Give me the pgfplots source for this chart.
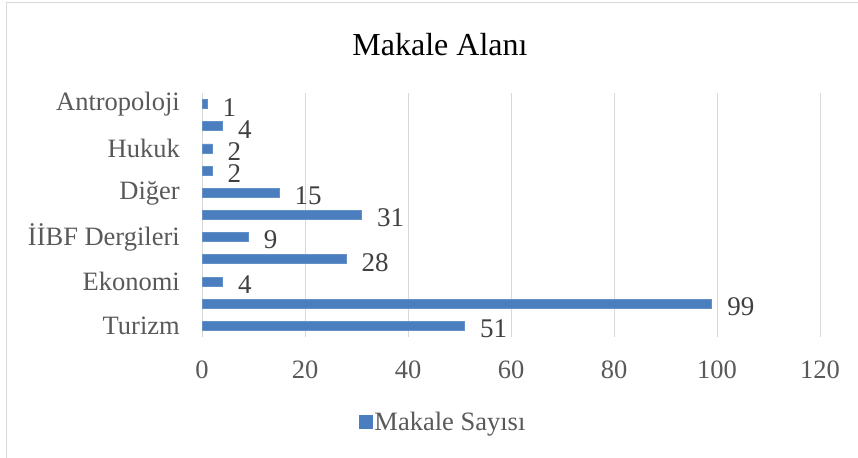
\documentclass[border=0pt]{standalone}
\usepackage{pgfplots}
\pgfplotsset{compat=1.18}
\usepackage{fontspec}
\setmainfont{Liberation Serif}
\definecolor{barblue}{HTML}{4A7EBF}
\definecolor{gridgray}{HTML}{D9D9D9}
\definecolor{ticktext}{HTML}{595959}
\definecolor{labeltext}{HTML}{404040}
\begin{document}
\begin{tikzpicture}
\useasboundingbox (0bp,0bp) rectangle (858bp,458bp);
\fill[white] (0bp,0bp) rectangle (858bp,458bp);
\draw[color=gridgray, line width=1bp] (6.5bp,-5bp) -- (6.5bp,455bp) -- (870bp,455bp);
\begin{axis}[
  at={(202bp,121bp)}, anchor=south west,
  scale only axis, width=618bp, height=244bp,
  xbar, bar width=9bp,
  xmin=0, xmax=120, ymin=-0.5, ymax=10.5,
  xtick={0,20,...,120},
  ytick={0,...,10},
  yticklabels={Turizm,,Ekonomi,,İİBF Dergileri,,Diğer,,Hukuk,,Antropoloji},
  axis line style={draw=none},
  major tick length=0pt,
  xmajorgrids, grid style={color=gridgray, line width=1bp},
  /pgf/number format/assume math mode=true,
  tick label style={font=\fontsize{26.5bp}{29bp}\selectfont, color=ticktext, inner sep=0pt},
  yticklabel style={anchor=east, xshift=-22bp},
  xticklabel style={anchor=north, yshift=-24bp},
  clip=false,
  nodes near coords,
  nodes near coords style={anchor=west, inner sep=0pt, xshift=15bp, yshift=-3bp,
    font=\fontsize{27bp}{29bp}\selectfont, color=labeltext},
  legend style={draw=none, at={(0.39,-0.348)}, anchor=center,
    font=\fontsize{26.5bp}{29bp}\selectfont, text=ticktext, inner sep=0pt,
    /tikz/every even column/.append style={column sep=0pt}},
  legend image code/.code={\fill[barblue] (0bp,-6.5bp) rectangle (13bp,6.5bp);},
]
\addplot[fill=barblue, draw=barblue!85!white, line width=0.8bp]
  coordinates {(51,0) (99,1) (4,2) (28,3) (9,4) (31,5) (15,6) (2,7) (2,8) (4,9) (1,10)};
\addlegendentry{Makale Sayısı}
\end{axis}
\node[font=\fontsize{32bp}{36bp}\selectfont, color=black] at (440bp,413bp) {Makale Alanı};
\end{tikzpicture}
\end{document}
